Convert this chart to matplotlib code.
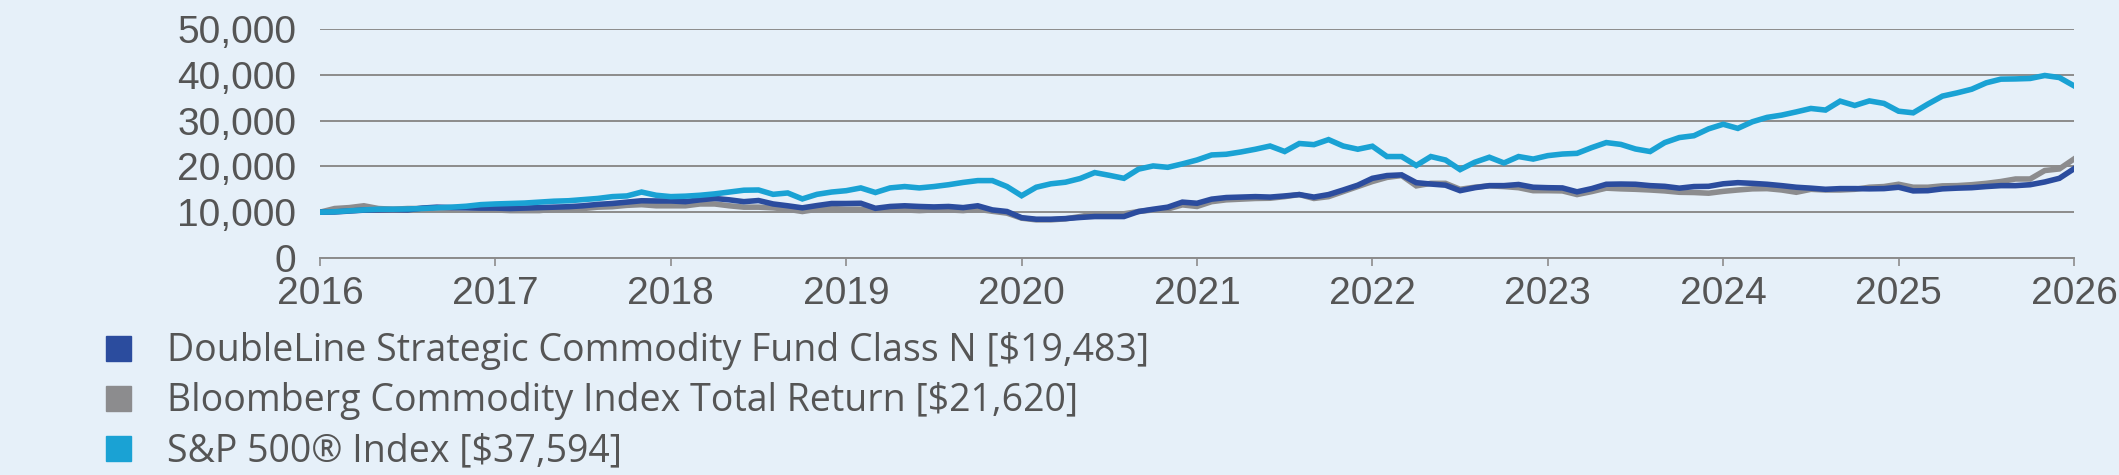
import numpy as np
import matplotlib.pyplot as plt
from matplotlib.lines import Line2D

# -----------------------------
# Data: growth of $10,000, monthly
# -----------------------------
years = [2016, 2017, 2018, 2019, 2020, 2021, 2022, 2023, 2024, 2025, 2026]

fund = [10000, 10050, 10250, 10450, 10500, 10550, 10500, 10900, 11100, 11000, 10950, 10900, 10900,
        10800, 10900, 11000, 11100, 11200, 11400, 11700, 11900, 12200, 12500, 12450, 12450,
        12300, 12700, 13000, 12700, 12300, 12550, 11800, 11400, 10950, 11450, 11900, 11900,
        11950, 10850, 11250, 11400, 11250, 11150, 11250, 11000, 11400, 10500, 10150, 8800,
        8470, 8470, 8600, 8850, 9050, 9050, 9050, 10150, 10650, 11100, 12200, 11950,
        12850, 13200, 13300, 13400, 13300, 13550, 13850, 13300, 13850, 14850, 15900, 17400,
        18000, 18150, 16450, 16150, 15900, 14700, 15350, 15800, 15800, 16050, 15450, 15350,
        15300, 14450, 15150, 16100, 16150, 16100, 15800, 15650, 15250, 15600, 15650, 16200,
        16450, 16300, 16100, 15800, 15450, 15250, 15000, 15150, 15150, 15100, 15150, 15450,
        14650, 14700, 15100, 15250, 15350, 15600, 15800, 15800, 16000, 16600, 17400, 19483]

bcom = [10000, 10800, 11000, 11400, 10800, 10650, 10800, 10800, 10900, 10900, 11000, 10850, 10500,
        10350, 10350, 10350, 10650, 10850, 10800, 11100, 11200, 11500, 11650, 11400, 11400,
        11400, 11800, 11800, 11400, 11100, 11100, 10950, 10650, 10150, 10650, 10800, 10650,
        10650, 10500, 10500, 10500, 10350, 10500, 10500, 10350, 10650, 10200, 9800, 8700,
        8330, 8330, 8550, 9050, 9650, 9500, 9650, 10150, 10500, 10700, 11600, 11250,
        12300, 12700, 12850, 13000, 13050, 13400, 13850, 13000, 13400, 14500, 15600, 16700,
        17600, 18000, 15750, 16300, 16300, 15000, 15450, 15750, 15600, 15350, 14700, 14700,
        14650, 13850, 14500, 15250, 15100, 15000, 14850, 14650, 14350, 14300, 14150, 14550,
        14850, 15100, 15150, 14850, 14350, 15000, 14850, 14850, 15000, 15450, 15600, 16100,
        15450, 15450, 15750, 15800, 16000, 16300, 16700, 17250, 17250, 19100, 19450, 21620]

sp500 = [10000, 10100, 10300, 10500, 10650, 10650, 10700, 10800, 10950, 11100, 11300, 11650, 11800,
         11900, 12000, 12200, 12400, 12500, 12750, 13000, 13400, 13550, 14400, 13700, 13400,
         13500, 13700, 14000, 14400, 14800, 14850, 13900, 14200, 12900, 13900, 14400, 14700,
         15300, 14300, 15300, 15600, 15300, 15600, 16000, 16500, 16900, 16900, 15600, 13600,
         15450, 16200, 16550, 17350, 18650, 18050, 17400, 19400, 20100, 19800, 20550, 21400,
         22500, 22650, 23150, 23750, 24450, 23250, 25000, 24750, 25850, 24450, 23750, 24400,
         22150, 22150, 20200, 22150, 21400, 19300, 20900, 22000, 20750, 22150, 21600, 22350,
         22700, 22850, 24100, 25200, 24800, 23800, 23250, 25200, 26300, 26700, 28200, 29200,
         28300, 29750, 30700, 31200, 31900, 32650, 32300, 34250, 33300, 34300, 33750, 32050,
         31700, 33600, 35350, 36050, 36850, 38250, 39050, 39100, 39200, 39850, 39400, 37594]

labels = ["DoubleLine Strategic Commodity Fund Class N [$19,483]",
          "Bloomberg Commodity Index Total Return [$21,620]",
          "S&P 500\u00ae Index [$37,594]"]

colors = ["#2b4c9e", "#8c8c8e", "#1aa2d4"]
bg = "#e6f0f9"
text_col = "#555555"

plt.rcParams["font.family"] = ["Liberation Sans", "DejaVu Sans"]

fig = plt.figure(figsize=(21.19, 4.75), dpi=100, facecolor=bg)
ax = fig.add_axes([320 / 2119, 1 - 258 / 475, (2074 - 320) / 2119, (258 - 29) / 475])
ax.set_facecolor(bg)

x = np.arange(len(fund)) / 12 + years[0]

# grey first, then fund, then S&P on top
ax.plot(x, bcom, color=colors[1], lw=4.0, zorder=3, solid_joinstyle="miter")
ax.plot(x, fund, color=colors[0], lw=4.0, zorder=4, solid_joinstyle="miter")
ax.plot(x, sp500, color=colors[2], lw=4.0, zorder=5, solid_joinstyle="miter")

ax.set_xlim(years[0], years[-1])
ax.set_ylim(0, 50000)
ax.set_yticks(range(0, 50001, 10000))
ax.set_yticklabels([f"{v:,}" for v in range(0, 50001, 10000)])
ax.set_xticks(years)
ax.set_xticklabels([str(y) for y in years])

ax.grid(axis="y", color="#8c8c8c", lw=1.4, zorder=1)
for s in ["top", "right", "left"]:
    ax.spines[s].set_visible(False)
ax.spines["bottom"].set_color("#8c8c8c")
ax.spines["bottom"].set_linewidth(1.4)
ax.spines["bottom"].set_zorder(1)

ax.tick_params(axis="y", length=0, pad=17, labelsize=28, labelcolor=text_col)
ax.tick_params(axis="x", length=6, width=1.2, color="#8c8c8c", pad=7,
               labelsize=28, labelcolor=text_col)

# legend with square markers
handles = [Line2D([], [], marker="s", linestyle="none", markersize=18, color=c) for c in colors]
fig.legend(handles, labels, loc="upper left", bbox_to_anchor=(99 / 2119, 1 - 332 / 475),
           frameon=False, prop={"family": ["Open Sans", "DejaVu Sans"], "size": 27},
           labelcolor=text_col, handletextpad=0.82,
           labelspacing=0.32, handlelength=1.0, borderaxespad=0, borderpad=0)

fig.savefig("out.png", dpi=100, facecolor=bg)
